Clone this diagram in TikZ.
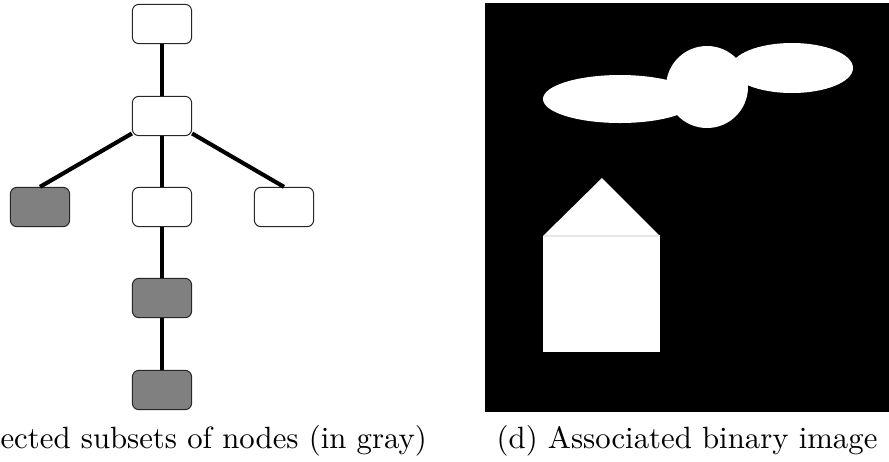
\documentclass[tikz,border=0pt]{standalone}
\begin{document}
\begin{tikzpicture}[x=0.3413pt,y=-0.3413pt,
  treenode/.style={draw=black!85, line width=0.35pt, rounded corners=2.2pt,
    minimum width=20.2pt, minimum height=13.4pt, inner sep=0pt, fill=white},
  selnode/.style={treenode, fill=gray},
  treeedge/.style={line width=1.4pt, black},
  caption/.style={inner sep=0pt, font=\fontsize{10.5}{12.6}\selectfont}]
\useasboundingbox (0,0) rectangle (889,462);
\clip (0,0) rectangle (889,462);
% tree
\node[treenode] (n1) at (162,24) {};
\node[treenode] (n2) at (162,116) {};
\node[selnode]  (n3) at (40,207) {};
\node[treenode] (n4) at (162,207) {};
\node[treenode] (n5) at (284,207) {};
\node[selnode]  (n6) at (162,298) {};
\node[selnode]  (n7) at (162,390) {};
\draw[treeedge] (n1) -- (n2);
\draw[treeedge] (n2) -- (n3.north);
\draw[treeedge] (n2) -- (n4);
\draw[treeedge] (n2) -- (n5.north);
\draw[treeedge] (n4) -- (n6);
\draw[treeedge] (n6) -- (n7);
% binary image
\fill[black] (485,3) rectangle (894,412);
\fill[white] (620,99) ellipse [x radius=77, y radius=24];
\fill[white] (792,68) ellipse [x radius=61, y radius=25];
\fill[white] (707,87) circle [radius=41];
\fill[white] (543,236) rectangle (660,352);
\fill[white] (543,236) -- (602,178) -- (660,236) -- cycle;
\draw[gray!18, line width=0.35pt] (543.5,236) -- (659.5,236);
% captions
\node[caption, anchor=base west] (capc) at (0,448) {ected subsets of nodes (in gray)};
\node[caption, anchor=base east] (capd) at (878,448) {(d) Associated binary image};
\end{tikzpicture}
\end{document}
